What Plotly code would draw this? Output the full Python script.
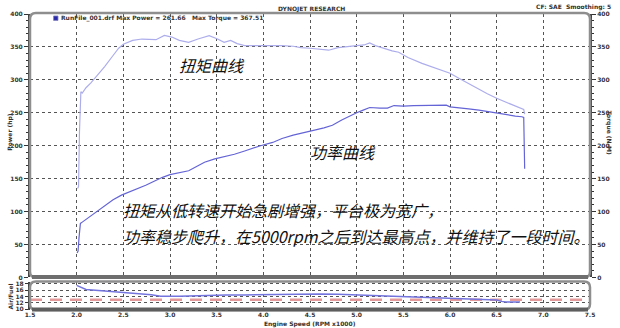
import plotly.graph_objects as go

# ---------------- data ----------------
rpm_torque = [2.01, 2.02, 2.03, 2.045, 2.06, 2.1, 2.15, 2.2, 2.3, 2.39, 2.45, 2.5, 2.6, 2.7, 2.78,
              2.85, 2.94, 3.02, 3.1, 3.2, 3.3, 3.42, 3.51, 3.58, 3.65, 3.72, 3.8, 3.9, 4.0, 4.1,
              4.2, 4.32, 4.4, 4.5, 4.6, 4.7, 4.8, 4.9, 5.0, 5.08, 5.14, 5.2, 5.3, 5.38, 5.45,
              5.55, 5.7, 5.85, 6.0, 6.1, 6.2, 6.31, 6.4, 6.5, 6.6, 6.7, 6.77, 6.79, 6.8]
torque = [135, 138, 220, 282, 280, 288, 295, 303, 320, 337, 348, 354, 360, 362, 362,
          361, 367.51, 365, 360, 357, 362, 367, 362, 357, 360, 355, 352, 352, 353, 352,
          352, 351, 349, 348, 346, 345, 349, 351, 352, 353, 356, 352, 347, 344, 342,
          334, 325, 318, 310, 302, 294, 285, 279, 272, 266, 261, 257, 255, 248]

rpm_power = [2.005, 2.015, 2.025, 2.04, 2.06, 2.1, 2.15, 2.22, 2.3, 2.39, 2.48, 2.57, 2.66, 2.74,
             2.83, 2.92, 3.0, 3.1, 3.2, 3.28, 3.37, 3.48, 3.58, 3.69, 3.8, 3.9, 3.97, 4.1, 4.2,
             4.32, 4.4, 4.49, 4.56, 4.65, 4.74, 4.84, 4.92, 5.0, 5.07, 5.14, 5.25, 5.33, 5.4,
             5.5, 5.61, 5.75, 5.85, 5.96, 6.0, 6.1, 6.2, 6.31, 6.4, 6.49, 6.6, 6.7, 6.77, 6.79, 6.8]
power = [37, 40, 60, 82, 84, 88, 93, 100, 108, 118, 125, 130, 135, 140,
         146, 152, 156, 159, 162, 168, 175, 180, 183, 187, 192, 197, 200, 205, 211,
         216, 219, 222, 224, 227, 231, 239, 245, 250, 254, 258, 257, 257, 261,
         260, 261, 261, 261, 261.66, 259, 258, 256, 254, 252, 249, 247, 245, 244, 243, 165]

rpm_afr = [2.0, 2.05, 2.1, 2.2, 2.3, 2.4, 2.5, 2.6, 2.7, 2.8, 2.9, 3.0, 3.1, 3.2, 3.4, 3.6, 3.8,
           4.0, 4.2, 4.4, 4.6, 4.8, 5.0, 5.2, 5.4, 5.6, 5.8, 6.0, 6.2, 6.4, 6.5, 6.55, 6.6, 6.75]
afr = [17.5, 16.8, 16.2, 16.0, 15.8, 15.5, 15.2, 15.1, 15.0, 14.6, 14.1, 14.0, 14.1, 14.2, 14.4,
       14.5, 14.5, 14.6, 14.6, 14.8, 14.8, 14.7, 14.5, 14.3, 14.0, 13.9, 13.7, 13.4, 13.2, 13.1,
       12.9, 12.5, 12.3, 12.3]

afr_ref_x = [1.5, 7.5]
afr_ref_y = [13, 13]

x_ticks = [1.5, 2.0, 2.5, 3.0, 3.5, 4.0, 4.5, 5.0, 5.5, 6.0, 6.5, 7.0, 7.5]
y_ticks = [0, 50, 100, 150, 200, 250, 300, 350, 400]
afr_ticks = [10, 12, 14, 16, 18]

# ---------------- layout helpers ----------------
W, H = 620, 328
ML, MR, MT, MB = 25, 25, 10, 18
PW, PH = W - ML - MR, H - MT - MB


def px(x):
    return (x - ML) / PW


def py(y):
    return (MT + PH - y) / PH


main_dom = [py(277), 1.0]
low_dom = [0.0, py(281.5)]

TXT = "#333333"
tickfont = dict(family="DejaVu Sans", size=6, color=TXT, weight="bold")

fig = go.Figure()
fig.add_trace(go.Scatter(x=rpm_power, y=power, mode="lines", xaxis="x", yaxis="y",
                         line=dict(color="#6464d6", width=1.2), showlegend=False))
fig.add_trace(go.Scatter(x=rpm_torque, y=torque, mode="lines", xaxis="x", yaxis="y2",
                         line=dict(color="#adadec", width=1.2), showlegend=False))
fig.add_trace(go.Scatter(x=afr_ref_x, y=afr_ref_y, mode="lines", xaxis="x2", yaxis="y3",
                         line=dict(color="#e49a9a", width=2.5, dash="12px,8px"), showlegend=False))
fig.add_trace(go.Scatter(x=rpm_afr, y=afr, mode="lines", xaxis="x2", yaxis="y3",
                         line=dict(color="#7474de", width=1.5), showlegend=False))

grid = dict(showgrid=True, gridcolor="#555555", griddash="dot", gridwidth=1, zeroline=False)

fig.update_layout(
    width=W, height=H,
    margin=dict(l=ML, r=MR, t=MT, b=MB),
    paper_bgcolor="white", plot_bgcolor="white",
    xaxis=dict(anchor="y", domain=[0, 1], range=[1.5, 7.5], tickvals=x_ticks,
               showticklabels=False, ticks="", **grid),
    yaxis=dict(domain=main_dom, anchor="x", range=[0, 400], tickvals=y_ticks,
               ticks="outside", ticklen=4, tickwidth=1, tickcolor="#333",
               minor=dict(dtick=10, ticks="outside", ticklen=2, tickcolor="#333", showgrid=False),
               showline=True, linecolor="#444", linewidth=2, tickfont=tickfont, **grid),
    yaxis2=dict(overlaying="y", side="right", anchor="x", range=[0, 400], tickvals=y_ticks,
                ticks="outside", ticklen=4, tickcolor="#333",
                minor=dict(dtick=10, ticks="outside", ticklen=2, tickcolor="#333", showgrid=False),
                showline=True, linecolor="#444", linewidth=2, showgrid=False, zeroline=False,
                tickfont=tickfont),
    xaxis2=dict(anchor="y3", domain=[0, 1], range=[1.5, 7.5], tickvals=x_ticks,
                tickformat=".1f", ticks="inside", ticklen=3, tickcolor="#ddd",
                minor=dict(dtick=0.1, ticks="inside", ticklen=2, tickcolor="#ddd", showgrid=False),
                tickfont=tickfont, **grid),
    yaxis3=dict(domain=low_dom, anchor="x2", range=[9.8, 18.6], tickvals=afr_ticks,
                ticks="outside", ticklen=3, tickcolor="#333",
                showline=True, linecolor="#444", linewidth=2, tickfont=tickfont,
                showgrid=True, gridcolor="#555555", griddash="dot", zeroline=False),
)


def rrect(x0, y0, x1, y1, r=6):
    """rounded rectangle in pixel coords -> paper path"""
    rx, ry = r / PW, r / PH
    X0, X1 = px(x0), px(x1)
    Y0, Y1 = py(y1), py(y0)  # bottom, top
    return (f"M {X0+rx},{Y1} L {X1-rx},{Y1} Q {X1},{Y1} {X1},{Y1-ry} "
            f"L {X1},{Y0+ry} Q {X1},{Y0} {X1-rx},{Y0} L {X0+rx},{Y0} "
            f"Q {X0},{Y0} {X0},{Y0+ry} L {X0},{Y1-ry} Q {X0},{Y1} {X0+rx},{Y1} Z")


shapes = [
    dict(type="path", xref="paper", yref="paper", path=rrect(25, 9, 595, 277),
         line=dict(color="#8e8e8e", width=2.5)),
    dict(type="line", xref="paper", yref="paper", x0=px(27), x1=px(593), y0=py(276.5), y1=py(276.5),
         line=dict(color="#6e6e6e", width=4)),
    dict(type="path", xref="paper", yref="paper", path=rrect(25, 281, 595, 310),
         line=dict(color="#8e8e8e", width=2.5)),
    dict(type="line", xref="paper", yref="paper", x0=px(27), x1=px(593), y0=py(309.5), y1=py(309.5),
         line=dict(color="#5e5e5e", width=4)),
    dict(type="rect", xref="paper", yref="paper", x0=px(49), x1=px(53.5), y0=py(16.5), y1=py(12),
         fillcolor="#2a2aa8", line=dict(color="#8080c0", width=0.8)),
]
fig.update_layout(shapes=shapes)

small = dict(family="DejaVu Sans", size=6, color=TXT, weight="bold")
cjk = "Noto Sans CJK SC"
ann = [
    dict(x=px(312), y=py(4.5), text="DYNOJET RESEARCH", font=small, xanchor="center"),
    dict(x=px(55), y=py(14.5), text="RunFile_001.drf Max Power = 261.66", font=small, xanchor="left"),
    dict(x=px(188), y=py(14.5), text="Max Torque = 367.51", font=small, xanchor="left"),
    dict(x=px(618), y=py(3.2), text="CF: SAE  Smoothing: 5", font=small, xanchor="right"),
    dict(x=px(5), y=py(130), text="Power (hp)", font=small, textangle=-90),
    dict(x=px(614), y=py(130), text="Torque (N-M)", font=small, textangle=90),
    dict(x=px(5), y=py(296), text="Air/Fuel", font=small, textangle=-90),
    dict(x=px(310), y=py(324), text="Engine Speed (RPM x1000)", font=small),
    dict(x=px(210), y=py(62), text="<i>扭矩曲线</i>", font=dict(family=cjk, size=16, color="#111")),
    dict(x=px(344), y=py(150), text="<i>功率曲线</i>", font=dict(family=cjk, size=16, color="#111")),
    dict(x=px(118), y=py(209), text="<i>扭矩从低转速开始急剧增强，平台极为宽广，</i>",
         font=dict(family=cjk, size=16, color="#111"), xanchor="left"),
    dict(x=px(118), y=py(235), text="<i>功率稳步爬升，在5000rpm之后到达最高点，并维持了一段时间。</i>",
         font=dict(family=cjk, size=16, color="#111"), xanchor="left"),
]
for a in ann:
    a.update(xref="paper", yref="paper", showarrow=False, yanchor="middle")
    a.setdefault("xanchor", "center")
fig.update_layout(annotations=ann)

fig.write_html("out.html")
